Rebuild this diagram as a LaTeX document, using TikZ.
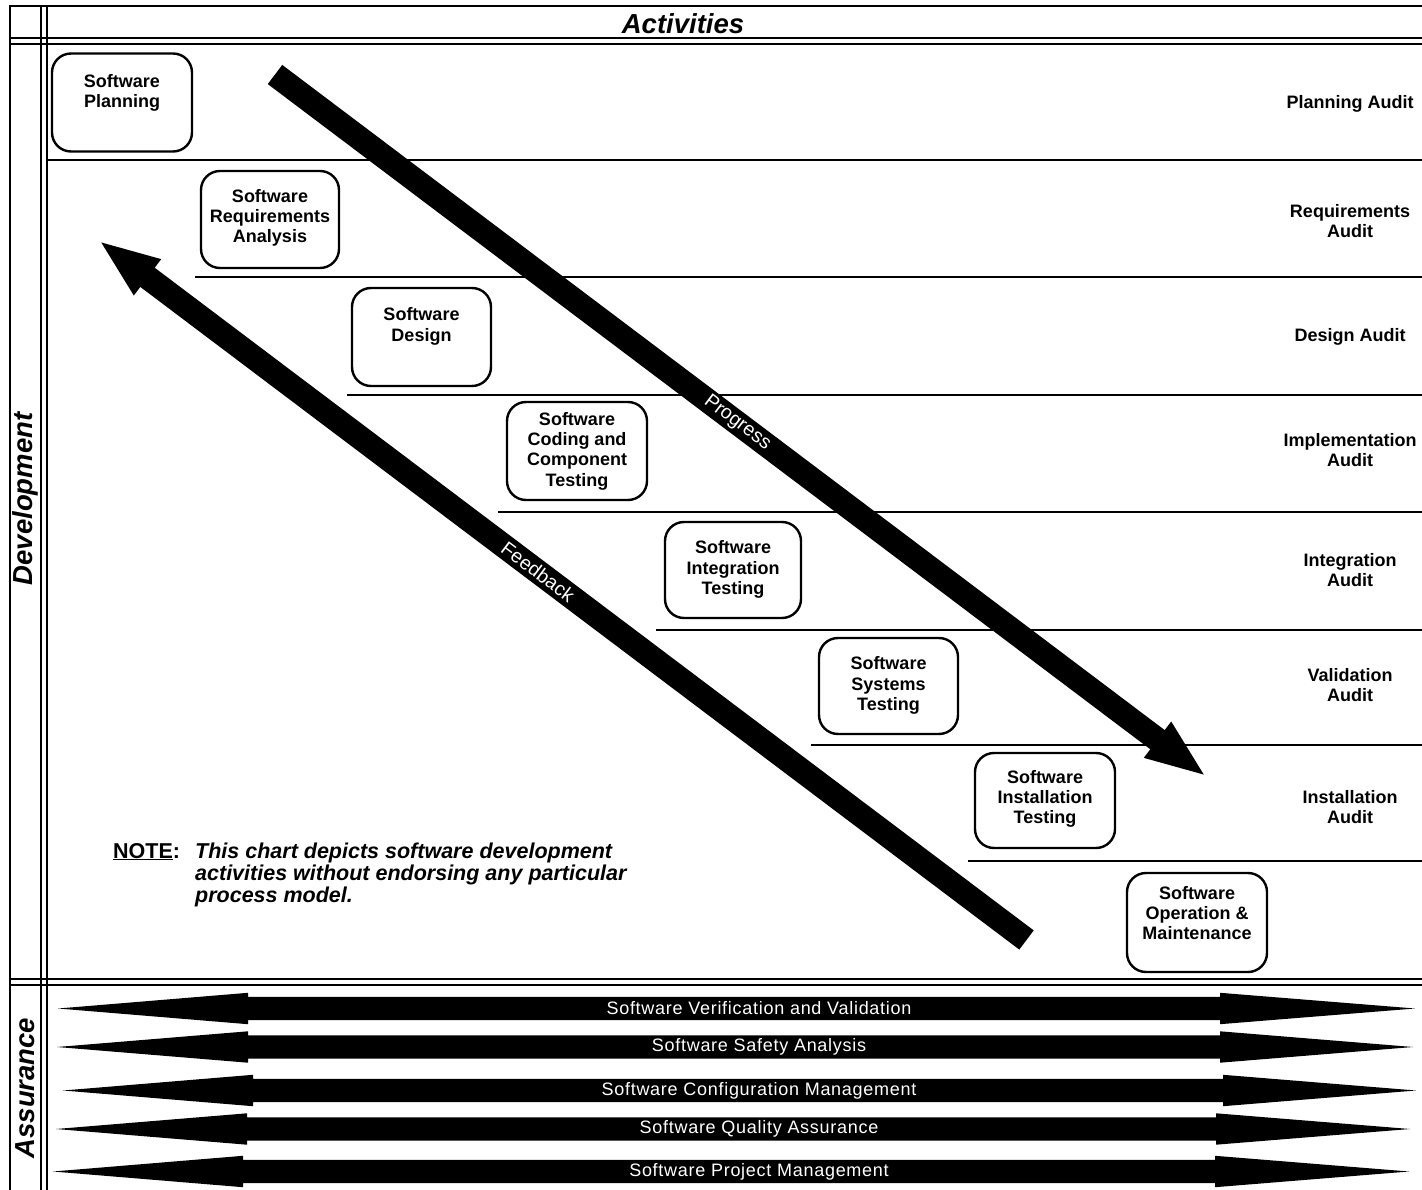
\documentclass[tikz,border=0pt]{standalone}
\usepackage{fontspec}
\setmainfont{Liberation Sans}
\usetikzlibrary{arrows.meta,calc}
\begin{document}
\begin{tikzpicture}[x=1pt,y=-1pt,
  frame/.style={line width=2.6pt},
  rowline/.style={line width=2.2pt},
  stage/.style={draw, line width=2.4pt, rounded corners=19pt, inner sep=0pt},
  stagetext/.style={align=center, font=\fontsize{18}{20.3}\selectfont\bfseries, inner sep=0pt},
  audit/.style={align=center, font=\fontsize{18}{20}\selectfont\bfseries, inner sep=0pt},
  bigarrow/.style={line width=24pt, -{Triangle[length=62pt 0, width=40pt 0]}},
  arrowlabel/.style={text=white, font=\fontsize{19.5}{19.5}\selectfont, sloped, inner sep=0pt},
  assure/.style={fill=black},
  assuretext/.style={text=white, font=\fontsize{18}{18}\selectfont\addfontfeature{LetterSpace=4}, inner sep=0pt},
  sidelabel/.style={rotate=90, font=\fontsize{27.5}{27.5}\selectfont\bfseries\itshape, inner sep=0pt}
]
\useasboundingbox (0,0) rectangle (1422,1190);
\fill[white] (0,0) rectangle (1422,1190);

% frame
\draw[frame] (10,1190) -- (10,6) -- (1422,6);
\draw[frame] (41,6) -- (41,1190);
\draw[frame] (47,6) -- (47,1190);
\draw[frame] (10,38) -- (1422,38);
\draw[frame] (10,44) -- (1422,44);
\draw[frame] (10,979) -- (1422,979);
\draw[frame] (10,985) -- (1422,985);

% headings
\node[font=\fontsize{27.5}{27.5}\selectfont\bfseries\itshape, inner sep=0pt] (act) at (683,24) {Activities};
\node[sidelabel] (dev) at (25.5,499) {Development};
\node[sidelabel] (ass) at (25.5,1088) {Assurance};

% row lines
\draw[rowline] (47,160) -- (1422,160);
\draw[rowline] (195,277) -- (1422,277);
\draw[rowline] (347,395) -- (1422,395);
\draw[rowline] (498,512) -- (1422,512);
\draw[rowline] (656,630) -- (1422,630);
\draw[rowline] (811,745) -- (1422,745);
\draw[rowline] (968,861) -- (1422,861);

% stage boxes
\node[stage, minimum width=140pt, minimum height=98pt] (b1) at (122,102.5) {};
\node[stage, minimum width=138pt, minimum height=97pt] (b2) at (270,219.5) {};
\node[stage, minimum width=139pt, minimum height=98pt] (b3) at (421.5,337) {};
\node[stage, minimum width=140pt, minimum height=98pt] (b4) at (577,451) {};
\node[stage, minimum width=136pt, minimum height=96pt] (b5) at (733,570) {};
\node[stage, minimum width=139pt, minimum height=96pt] (b6) at (888.5,686) {};
\node[stage, minimum width=140pt, minimum height=95pt] (b7) at (1045,800.5) {};
\node[stage, minimum width=140pt, minimum height=99pt] (b8) at (1197,922.5) {};

\node[stagetext] (t1) at (122,93) {Software\\Planning};
\node[stagetext] (t2) at (270,218) {Software\\Requirements\\Analysis};
\node[stagetext] (t3) at (421.5,326.5) {Software\\Design};
\node[stagetext] (t4) at (577,451) {Software\\Coding and\\Component\\Testing};
\node[stagetext] (t5) at (733,569.5) {Software\\Integration\\Testing};
\node[stagetext] (t6) at (888.5,685.5) {Software\\Systems\\Testing};
\node[stagetext] (t7) at (1045,799) {Software\\Installation\\Testing};
\node[stagetext] (t8) at (1197,913) {Software\\Operation \&\\Maintenance};

% audits
\node[audit] (a1) at (1350,104) {Planning Audit};
\node[audit] (a2) at (1350,221) {Requirements\\Audit};
\node[audit] (a3) at (1350,337) {Design Audit};
\node[audit] (a4) at (1350,450) {Implementation\\Audit};
\node[audit] (a5) at (1350,570) {Integration\\Audit};
\node[audit] (a6) at (1350,685) {Validation\\Audit};
\node[audit] (a7) at (1350,807) {Installation\\Audit};

% progress / feedback
\coordinate (ptail) at (275,74.5);
\coordinate (ptip) at (1207,777);
\coordinate (ftail) at (1026.5,940);
\coordinate (ftip) at (98,240);
\draw[bigarrow] (ptail) -- (ptip) node[arrowlabel, pos=0.496] {Progress};
\draw[bigarrow] (ftail) -- (ftip) node[arrowlabel, pos=0.526] {Feedback};

% note
\node[anchor=base west, inner sep=0pt, font=\fontsize{21.5}{22}\selectfont\bfseries] (notehead) at (113,858) {\underline{NOTE}:};
\node[anchor=base west, inner sep=0pt, align=left, font=\fontsize{21.5}{22}\selectfont\bfseries\itshape] (notebody) at (195,902) {This chart depicts software development\\activities without endorsing any particular\\process model.};

% assurance arrows
\newcommand\AssArrow[7]{%
  \fill[assure] (#2,#1) -- (#3,#1-15.7) -- (#3,#1-11.7) -- (#4,#1-11.7) -- (#4,#1-15.7) -- (#5,#1)
     -- (#4,#1+15.7) -- (#4,#1+11.7) -- (#3,#1+11.7) -- (#3,#1+15.7) -- cycle;
  \node[assuretext] (#6) at (759,#1) {#7};}
\AssArrow{1008.5}{58}{248}{1220}{1415}{s1}{Software Verification and Validation}
\AssArrow{1047}{57}{248}{1220}{1413}{s2}{Software Safety Analysis}
\AssArrow{1090.5}{63}{253}{1223}{1416}{s3}{Software Configuration Management}
\AssArrow{1129}{56}{247}{1216}{1410}{s4}{Software Quality Assurance}
\AssArrow{1171.5}{53}{243}{1215}{1409}{s5}{Software Project Management}
\end{tikzpicture}
\end{document}
